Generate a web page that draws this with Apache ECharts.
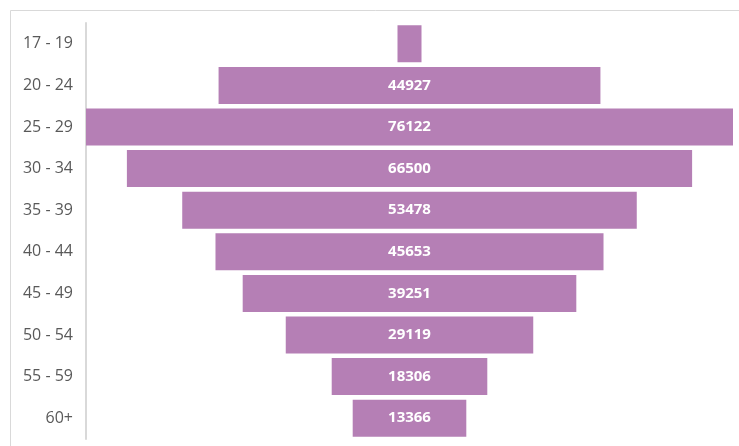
<!DOCTYPE html>
<html>
<head>
<meta charset="utf-8">
<script src="https://cdn.jsdelivr.net/npm/echarts@6/dist/echarts.min.js"></script>
<style>
  html, body { margin: 0; padding: 0; background: #fff; }
  #chart { width: 739px; height: 446px; }
</style>
</head>
<body>
<div id="chart"></div>
<script>
var ageGroups = ['17 - 19', '20 - 24', '25 - 29', '30 - 34', '35 - 39', '40 - 44', '45 - 49', '50 - 54', '55 - 59', '60+'];
var counts = [2824, 44927, 76122, 66500, 53478, 45653, 39251, 29119, 18306, 13366];
var hideLabel = [true, false, false, false, false, false, false, false, false, false];

var maxCount = Math.max.apply(null, counts);
// transparent spacer so each bar sits centred
var spacer = counts.map(function (v) { return (maxCount - v) / 2; });

var myChart = echarts.init(document.getElementById('chart'));
myChart.setOption({
    backgroundColor: '#fff',
    animation: false,
    graphic: [{
        type: 'rect',
        shape: { x: 10.5, y: 10.5, width: 800, height: 500 },
        style: { fill: 'none', stroke: '#d9d9d9', lineWidth: 1 },
        silent: true
    }],
    grid: {
        left: 86,
        right: 6,
        top: 23,
        bottom: 7
    },
    xAxis: {
        type: 'value',
        show: false,
        min: 0,
        max: maxCount
    },
    yAxis: {
        type: 'category',
        inverse: true,
        data: ageGroups,
        axisTick: { show: false },
        axisLine: { show: true, lineStyle: { color: '#d9d9d9', width: 2 } },
        axisLabel: {
            color: '#595959',
            fontFamily: 'Open Sans',
            fontSize: 16,
            margin: 13
        }
    },
    series: [{
        name: 'spacer',
        type: 'bar',
        stack: 'all',
        silent: true,
        itemStyle: { color: 'transparent' },
        data: spacer
    }, {
        name: 'count',
        type: 'bar',
        stack: 'all',
        barCategoryGap: '11%',
        itemStyle: { color: '#b57fb5' },
        label: {
            show: true,
            position: 'inside',
            color: '#fff',
            fontFamily: 'Open Sans',
            fontWeight: 'bold',
            fontSize: 15,
            formatter: function (p) {
                return hideLabel[p.dataIndex] ? '' : p.value;
            }
        },
        data: counts
    }]
});
</script>
</body>
</html>
